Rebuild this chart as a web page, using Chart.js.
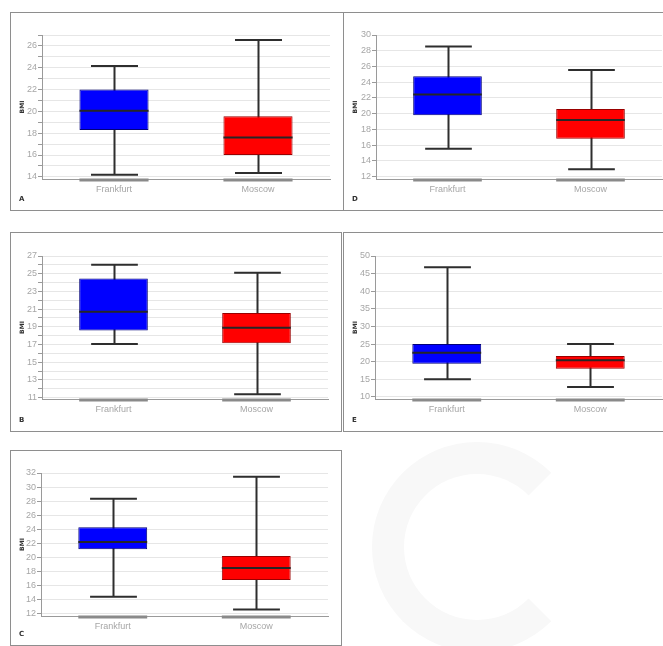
<!DOCTYPE html>
<html>
<head>
<meta charset="utf-8">
<script src="https://cdn.jsdelivr.net/npm/chart.js@4.4.1/dist/chart.umd.min.js"></script>
<style>
  html, body { margin: 0; padding: 0; background: #fff; }
  body { width: 663px; height: 646px; position: relative; overflow: hidden; font-family: "Liberation Sans", Arial, sans-serif; }
  .mark { position: absolute; left: 372px; top: 442px; width: 210px; height: 210px; box-sizing: border-box; border-radius: 50%; border: 32px solid #f8f8f8; border-right-color: transparent; }
  .panel { position: absolute; box-sizing: border-box; border: 1px solid #8e8e8e; background: #fff; }
  .panel canvas { position: absolute; left: 0; top: 0; }
  .tag { position: absolute; left: 8px; bottom: 7px; font: bold 7px "DejaVu Sans", sans-serif; color: #333; }
</style>
</head>
<body>

<div class="mark"></div>
<div class="panel" id="pA" style="left:10px;top:12px;width:334px;height:199px"><canvas id="cA"></canvas><span class="tag">A</span></div>
<div class="panel" id="pD" style="left:343px;top:12px;width:330px;height:199px"><canvas id="cD"></canvas><span class="tag">D</span></div>
<div class="panel" id="pB" style="left:10px;top:232px;width:332px;height:200px"><canvas id="cB"></canvas><span class="tag">B</span></div>
<div class="panel" id="pE" style="left:343px;top:232px;width:330px;height:200px"><canvas id="cE"></canvas><span class="tag">E</span></div>
<div class="panel" id="pC" style="left:10px;top:450px;width:332px;height:196px"><canvas id="cC"></canvas><span class="tag">C</span></div>

<script>
/* ─── Data: [low whisker, Q1, median, Q3, high whisker] ─── */
const cities = ["Frankfurt", "Moscow"];

const statsA = [[14.2, 18.3, 20.05, 22.0, 24.15], [14.35, 16.0, 17.6, 19.55, 26.55]];
const statsB = [[17.05, 18.6, 20.7, 24.45, 26.0], [11.4, 17.15, 18.9, 20.55, 25.1]];
const statsC = [[14.4, 21.15, 22.2, 24.3, 28.35], [12.6, 16.8, 18.5, 20.2, 31.45]];
const statsD = [[15.55, 19.8, 22.45, 24.75, 28.55], [12.95, 16.8, 19.2, 20.6, 25.55]];
const statsE = [[15.0, 19.4, 22.5, 25.0, 46.8], [12.8, 18.0, 20.4, 21.6, 25.0]];

/* ─── Axes: range, tick positions, labelled ticks ─── */
const rangeA = [13.8, 27];
const ticksA = [14, 15, 16, 17, 18, 19, 20, 21, 22, 23, 24, 25, 26, 27];
const labelsA = [14, 16, 18, 20, 22, 24, 26];

const rangeB = [10.85, 27];
const ticksB = [11, 12, 13, 14, 15, 16, 17, 18, 19, 20, 21, 22, 23, 24, 25, 26, 27];
const labelsB = [11, 13, 15, 17, 19, 21, 23, 25, 27];

const rangeC = [11.67, 32];
const ticksC = [12, 14, 16, 18, 20, 22, 24, 26, 28, 30, 32];
const labelsC = ticksC;

const rangeD = [11.7, 30];
const ticksD = [12, 14, 16, 18, 20, 22, 24, 26, 28, 30];
const labelsD = ticksD;

const rangeE = [9.4, 50];
const ticksE = [10, 15, 20, 25, 30, 35, 40, 45, 50];
const labelsE = ticksE;

const boxFill = ["#0000ff", "#ff0000"];
const boxEdge = ["#00007a", "#9a0000"];

/* ─── Whiskers, caps, medians, base marks ─── */
const boxPlot = {
  id: "boxPlot",
  beforeDatasetsDraw(chart) {
    const stats = chart.options.plugins.boxPlot.stats;
    const meta = chart.getDatasetMeta(0);
    const { x, y } = chart.scales;
    const ctx = chart.ctx;
    ctx.save();
    ctx.strokeStyle = "#2e2e2e";
    ctx.lineWidth = 2;
    stats.forEach((s, i) => {
      const cx = Math.round(x.getPixelForValue(i)) + 0.5;
      const cap = meta.data[i].width * 0.34;
      const yl = y.getPixelForValue(s[0]);
      const yh = y.getPixelForValue(s[4]);
      ctx.beginPath();
      ctx.moveTo(cx, yl); ctx.lineTo(cx, yh);
      ctx.moveTo(cx - cap, yl); ctx.lineTo(cx + cap, yl);
      ctx.moveTo(cx - cap, yh); ctx.lineTo(cx + cap, yh);
      ctx.stroke();
    });
    ctx.restore();
  },
  afterDatasetsDraw(chart) {
    const stats = chart.options.plugins.boxPlot.stats;
    const meta = chart.getDatasetMeta(0);
    const { x, y } = chart.scales;
    const ctx = chart.ctx;
    const bottom = chart.chartArea.bottom;
    ctx.save();
    stats.forEach((s, i) => {
      const cx = x.getPixelForValue(i);
      const hw = meta.data[i].width / 2;
      const ym = y.getPixelForValue(s[2]);
      ctx.strokeStyle = "#262626";
      ctx.lineWidth = 2;
      ctx.beginPath();
      ctx.moveTo(cx - hw, ym); ctx.lineTo(cx + hw, ym);
      ctx.stroke();
      ctx.strokeStyle = "#8a8a8a";
      ctx.lineWidth = 3;
      ctx.beginPath();
      ctx.moveTo(cx - hw, bottom + 1); ctx.lineTo(cx + hw, bottom + 1);
      ctx.stroke();
    });
    ctx.restore();
  },
};

/* ─── One panel ─── */
const makePanel = (canvasId, plot, stats, range, ticks, labels) => {
  const canvas = document.getElementById(canvasId);
  const panel = canvas.parentElement;
  const ox = panel.offsetLeft + 1;
  const oy = panel.offsetTop + 1;
  const cw = panel.offsetWidth - 2;
  const ch = panel.offsetHeight - 2;
  canvas.width = cw;
  canvas.height = ch;

  const padLeft = 2;
  const yW = plot.l - ox - padLeft;
  const xH = 20;

  new Chart(canvas.getContext("2d"), {
    type: "bar",
    data: {
      labels: cities,
      datasets: [{
        data: stats.map((s) => [s[1], s[3]]),
        backgroundColor: boxFill,
        borderColor: boxEdge,
        borderWidth: 1,
        borderSkipped: false,
        barPercentage: 0.48,
        categoryPercentage: 1,
      }],
    },
    options: {
      responsive: false,
      devicePixelRatio: 1,
      animation: false,
      layout: {
        padding: {
          left: padLeft,
          top: plot.t - oy,
          right: ox + cw - plot.r,
          bottom: oy + ch - plot.b - xH,
        },
      },
      plugins: {
        legend: { display: false },
        tooltip: { enabled: false },
        boxPlot: { stats },
      },
      scales: {
        x: {
          afterFit: (s) => { s.height = xH; },
          grid: { display: false, drawTicks: false },
          border: { display: true, color: "#9a9a9a", width: 1 },
          ticks: { color: "#a6a6a6", padding: 5, font: { family: "Liberation Sans", size: 9 } },
        },
        y: {
          min: range[0],
          max: range[1],
          afterFit: (s) => { s.width = yW; },
          afterBuildTicks: (s) => { s.ticks = ticks.map((v) => ({ value: v })); },
          grid: { color: "#e6e6e6", tickColor: "#9a9a9a", tickLength: 4 },
          border: { display: true, color: "#9a9a9a", width: 1 },
          ticks: {
            autoSkip: false,
            padding: 1,
            color: "#a6a6a6",
            font: { family: "Liberation Sans", size: 9 },
            callback: (v) => (labels.includes(v) ? String(v) : ""),
          },
          title: {
            display: true,
            text: "BMI",
            color: "#333",
            padding: { top: 6, bottom: 0 },
            font: { family: "DejaVu Sans", size: 6, weight: "bold" },
          },
        },
      },
    },
    plugins: [boxPlot],
  });
};

makePanel("cA", { l: 42, t: 35, r: 330, b: 179 }, statsA, rangeA, ticksA, labelsA);
makePanel("cD", { l: 376, t: 35, r: 662, b: 179 }, statsD, rangeD, ticksD, labelsD);
makePanel("cB", { l: 42, t: 256, r: 328, b: 399 }, statsB, rangeB, ticksB, labelsB);
makePanel("cE", { l: 375, t: 256, r: 662, b: 399 }, statsE, rangeE, ticksE, labelsE);
makePanel("cC", { l: 41, t: 473, r: 328, b: 616 }, statsC, rangeC, ticksC, labelsC);
</script>
</body>
</html>
